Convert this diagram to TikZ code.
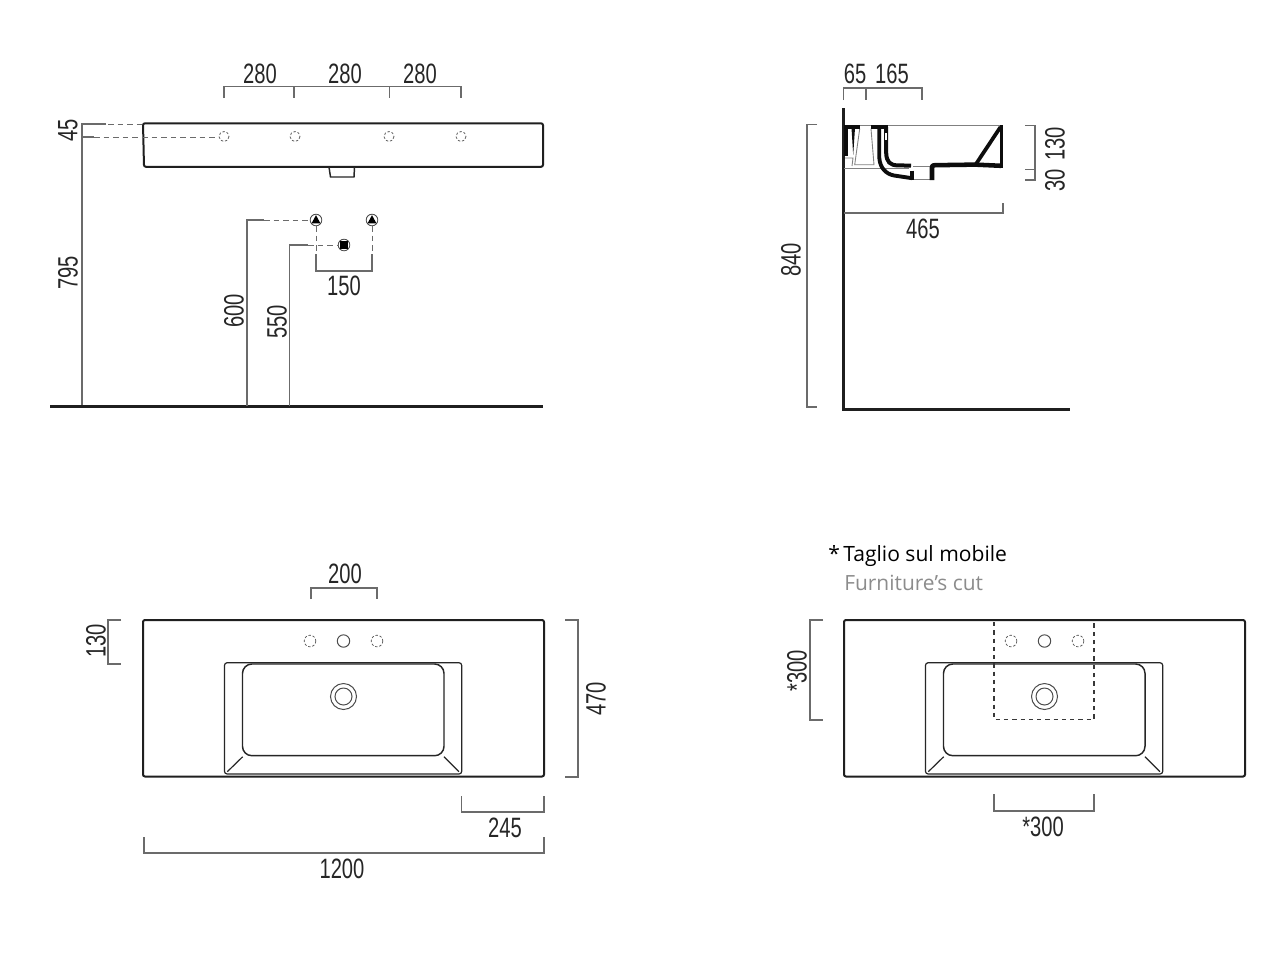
\documentclass[tikz,border=0pt]{standalone}
\usepackage{fontspec}
\setmainfont{Liberation Sans}
\newfontfamily\dimfont[FakeStretch=0.72]{Liberation Sans}
\newfontfamily\notefont{Open Sans}
\tikzset{
 x=0.75pt,y=-0.75pt,
 dimline/.style={draw=black!58,line width=0.8pt,line join=miter},
 dashline/.style={draw=black!58,line width=0.75pt,dash pattern=on 4.2pt off 3pt},
 outline/.style={draw=black!88,line width=1.5pt,rounded corners=1.5pt},
 thinline/.style={draw=black!85,line width=0.9pt},
 dimtext/.style={font=\dimfont\fontsize{21}{21}\selectfont,text=black!85,inner sep=0pt,anchor=center},
 vdim/.style={dimtext,rotate=90},
 hole/.style={draw=black!62,line width=0.6pt,dash pattern=on 1.8pt off 1.4pt},
 solidhole/.style={draw=black!70,line width=0.75pt},
 cutline/.style={draw=black!78,line width=1.1pt,dash pattern=on 3.2pt off 3pt},
 floorline/.style={draw=black!88,line width=1.9pt},
 secwall/.style={draw=black!95,line join=round},
 secthin/.style={draw=black!50,line width=0.65pt},
}
\newcommand{\tapsym}[2]{%
 \fill[white,draw=black!70,line width=0.65pt] (#1,#2) circle[radius=5.8];
 \fill[black] (#1-4.5,#2+3.4) -- (#1,#2-4.8) -- (#1+4.5,#2+3.4) -- cycle;}
\newcommand{\basinplan}[1]{%
 \begin{scope}[xshift=#1*0.75pt]
 \draw[outline] (143,620) -- (544,620) -- (544,776.5) -- (143,776.5) -- cycle;
 \draw[thinline,rounded corners=2pt] (224.5,662.7) rectangle (461.7,774);
 \draw[thinline,line width=1.1pt,rounded corners=7pt] (242.5,664) rectangle (444,755.7);
 \draw[thinline] (242.7,756.7) -- (227.3,771.7);
 \draw[thinline] (444,756.7) -- (459,771.7);
 \draw[hole] (310,641) circle[radius=5.8];
 \draw[solidhole] (343.5,641) circle[radius=6.2];
 \draw[hole] (377,641) circle[radius=5.8];
 \draw[solidhole] (343.5,696.5) circle[radius=13];
 \draw[solidhole] (343.5,696.5) circle[radius=8.5];
 \end{scope}}
\begin{document}
\begin{tikzpicture}
\useasboundingbox (0,0) rectangle (1280,961);
\fill[white] (0,0) rectangle (1280,961);

% ---- front elevation
\draw[outline] (143,123.3) -- (543,123.3) -- (543,166.8) -- (144,166.8) -- cycle;
\draw[thinline,line width=1.1pt] (329,167) -- (330.5,177) -- (354,177) -- (354.5,167);
\draw[dimline] (224,98) -- (224,86.5) -- (461,86.5) -- (461,98);
\draw[dimline] (294,86.5) -- (294,98);
\draw[dimline] (389.5,86.5) -- (389.5,98);
\node[dimtext] (t280a) at (260,74) {280};
\node[dimtext] (t280b) at (345,74) {280};
\node[dimtext] (t280c) at (420,74) {280};
\foreach \hx/\hn in {224/h1,295/h2,389/h3,461/h4}{\draw[hole] (\hx,136.5) circle[radius=5];}
\draw[dimline] (106,124) -- (82,124) -- (82,406);
\draw[dashline] (108,124) -- (143,124);
\draw[dimline] (82,137) -- (94,137);
\draw[dashline] (94,137) -- (219,137);
\node[vdim] (t45) at (68,130) {45};
\node[vdim] (t795) at (68,273) {795};
\draw[floorline] (50,406.3) -- (543,406.3);
\draw[dimline] (247,406) -- (247,220) -- (264,220);
\draw[dashline] (264,220) -- (309,220);
\draw[dimline] (289.5,406) -- (289.5,245) -- (308,245);
\draw[dashline] (308,245) -- (338,245);
\draw[dashline] (316,226) -- (316,256);
\draw[dashline] (372,226) -- (372,256);
\draw[dimline] (316,254) -- (316,271) -- (372,271) -- (372,254);
\tapsym{316}{220}
\tapsym{372}{220}
\fill[white,draw=black!70,line width=0.65pt] (344,245) circle[radius=5.8];
\fill[black] (340.3,241.3) rectangle (347.7,248.7);
\node[dimtext] (t150) at (344,286) {150};
\node[vdim] (t600) at (234,311) {600};
\node[vdim] (t550) at (277,322) {550};

% ---- side section
\draw[floorline] (843.5,108) -- (843.5,409.3) -- (1070,409.3);
\draw[dimline] (817,124.5) -- (807,124.5) -- (807,407) -- (817,407);
\node[vdim] (t840) at (791,260) {840};
\draw[dimline] (843.5,100) -- (843.5,88) -- (922,88) -- (922,100);
\draw[dimline] (866,88) -- (866,100);
\node[dimtext] (t65) at (855,74) {65};
\node[dimtext] (t165) at (892,74) {165};
\draw[dimline] (844,213) -- (1003,213) -- (1003,203);
\node[dimtext] (t465) at (923,229) {465};
\draw[dimline] (1025,125.5) -- (1035,125.5) -- (1035,180) -- (1025,180);
\draw[dimline] (1025,169.5) -- (1035,169.5);
\node[vdim] (t130) at (1055,144) {130};
\node[vdim] (t30) at (1055,180) {30};
% section: thin edges
\draw[secthin] (860,125) -- (1003,125);
\draw[secthin] (844,168) -- (909,168);
\draw[secthin] (859.7,128.7) -- (854.7,164.7) -- (874,164.7) -- (871,128.7);
\draw[secthin] (845,158) -- (853,158) -- (852,166);
\draw[secthin] (913,166) -- (930,166);
\draw[secthin] (913,179.6) -- (930,179.6);
% section: cut walls
\draw[secwall,line width=2.6pt] (844,127) -- (860,127);
\draw[secwall,line width=2.6pt] (871,127) -- (888,127);
\draw[secwall,line width=2.4pt] (846,127) -- (846,156);
\fill[black!95] (851.5,128) -- (855,128) -- (853.2,155) -- cycle;
\draw[secwall,line width=2.9pt] (879.3,127) -- (879.3,158) .. controls (880,168) and (886,174) .. (894,175.5) -- (912,178.2);
\draw[secwall,line width=3pt] (886.2,127) -- (886.2,153) .. controls (886.5,162) and (890,165.3) .. (898,165.4) -- (911,165.6);
\draw[secwall,line width=3.2pt] (912,170.5) -- (912,180);
\draw[secwall,line width=3.4pt] (932,180) -- (932,167) .. controls (932,165.5) and (933,165.2) .. (935,165.2) -- (975,164.6) -- (1001,165.8);
\draw[secwall,line width=2.8pt] (976,164) -- (1000.5,127);
\draw[secwall,line width=2.2pt] (1001.3,125) -- (1001.3,168);
\fill[white] (885,133) rectangle (887.2,140);

% ---- plan left
\basinplan{0}
\draw[dimline] (311,599) -- (311,588) -- (377,588) -- (377,599);
\node[dimtext] (t200) at (345,574) {200};
\draw[dimline] (121,620) -- (108,620) -- (108,664) -- (121,664);
\node[vdim] (t130b) at (96,641) {130};
\draw[dimline] (565,620) -- (578,620) -- (578,777) -- (565,777);
\node[vdim] (t470) at (596,699) {470};
\draw[dimline] (461.5,796) -- (461.5,812) -- (544,812) -- (544,796);
\node[dimtext] (t245) at (505,828) {245};
\draw[dimline] (144,837) -- (144,853) -- (544,853) -- (544,837);
\node[dimtext] (t1200) at (342,869) {1200};

% ---- plan right
\basinplan{701}
\draw[cutline] (994,622) -- (994,719.5) -- (1094,719.5) -- (1094,622);
\draw[dimline] (823,620) -- (810,620) -- (810,720) -- (823,720);
\node[vdim] (t300v) at (797,671) {*300};
\draw[dimline] (994,794) -- (994,811) -- (1094,811) -- (1094,794);
\node[dimtext] (t300h) at (1043,827) {*300};
\node[anchor=base west,inner sep=0pt,font=\notefont\fontsize{15.8}{16}\selectfont] (note1) at (828,561) {*\,Taglio sul mobile};
\node[anchor=base west,inner sep=0pt,font=\notefont\fontsize{15.7}{16}\selectfont,text=black!45] (note2) at (844,590) {Furniture’s cut};
\end{tikzpicture}
\end{document}
